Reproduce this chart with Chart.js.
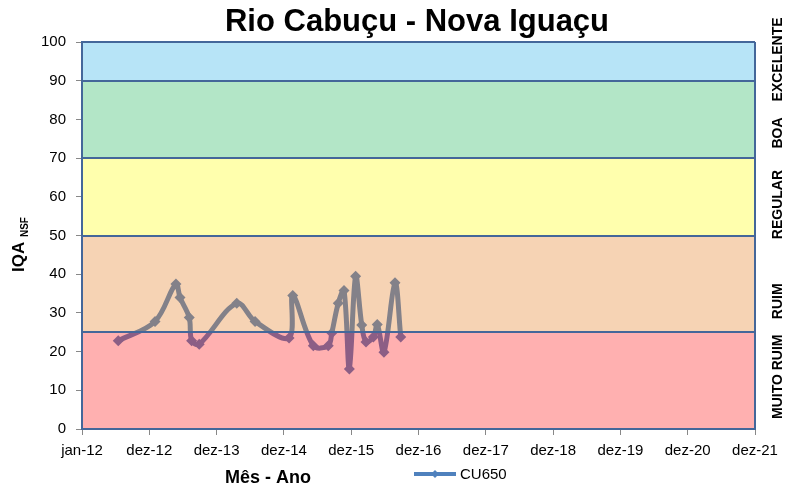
<!DOCTYPE html>
<html>
<head>
<meta charset="utf-8">
<script src="https://cdn.jsdelivr.net/npm/chart.js@4.4.1/dist/chart.umd.min.js"></script>
<style>
  html, body { margin: 0; padding: 0; background: #fff; }
  #wrap { width: 786px; height: 487px; }
</style>
</head>
<body>
<div id="wrap"><canvas id="IqaChart" width="786" height="487"></canvas></div>
<script>
// dados (datas de coleta e IQA)
var sampleDates = ['2012-07-15','2013-01-30','2013-05-23','2013-06-14','2013-08-03','2013-08-16','2013-09-26',
    '2014-04-17','2014-07-25','2015-01-25','2015-02-14','2015-06-05','2015-08-25','2015-09-13','2015-10-18',
    '2015-11-18','2015-12-17','2016-01-20','2016-02-22','2016-03-16','2016-04-25','2016-05-16','2016-06-21',
    '2016-08-20','2016-09-20'];
var iqaValues = [22.8, 27.8, 37.5, 34.0, 28.8, 22.8, 21.9,
    32.5, 27.8, 23.5, 34.5, 21.5, 21.5, 24.8, 32.5,
    35.8, 15.5, 39.5, 26.9, 22.5, 23.8, 27.0, 19.8,
    37.8, 23.8];
var tickLabels = ['jan-12','dez-12','dez-13','dez-14','dez-15','dez-16','dez-17','dez-18','dez-19','dez-20','dez-21'];
var yTicks = [0, 10, 20, 30, 40, 50, 60, 70, 80, 90, 100];

// faixas de qualidade
var bandNames = ['MUITO RUIM', 'RUIM', 'REGULAR', 'BOA', 'EXCELENTE'];
var bandLimits = [0, 25, 50, 70, 90, 100];
var bandLabelAt = [13.5, 33, 58, 76.5, 95.5];
var bandColors = ['rgba(255,29,29,0.35)', 'rgba(229,129,41,0.35)', 'rgba(255,255,20,0.35)',
    'rgba(38,184,95,0.35)', 'rgba(50,178,233,0.35)'];

var FONT = "'Liberation Sans', Arial, sans-serif";
var startDay = Date.UTC(2012, 0, 1);
var stepDays = 364;

function dayOf(s) {
    var p = s.split('-');
    return (Date.UTC(+p[0], +p[1] - 1, +p[2]) - startDay) / 86400000;
}

var points = sampleDates.map(function (d, i) {
    return { x: dayOf(d), y: iqaValues[i] };
});

var bandsPlugin = {
    id: 'bands',
    afterDatasetsDraw: function (chart) {
        var ctx = chart.ctx;
        var a = chart.chartArea;
        var ys = chart.scales.y;
        ctx.save();
        for (var i = 0; i < bandNames.length; i++) {
            var top = ys.getPixelForValue(bandLimits[i + 1]);
            var bot = ys.getPixelForValue(bandLimits[i]);
            ctx.fillStyle = bandColors[i];
            ctx.fillRect(a.left, top, a.right - a.left, bot - top);
        }
        ctx.strokeStyle = '#44679a';
        ctx.lineWidth = 2;
        for (var j = 0; j < bandLimits.length; j++) {
            var y = Math.round(ys.getPixelForValue(bandLimits[j]));
            ctx.beginPath();
            ctx.moveTo(a.left, y);
            ctx.lineTo(a.right, y);
            ctx.stroke();
        }
        ctx.beginPath();
        ctx.moveTo(a.left, a.top);
        ctx.lineTo(a.left, a.bottom);
        ctx.moveTo(a.right, a.top);
        ctx.lineTo(a.right, a.bottom);
        ctx.stroke();

        // nomes das faixas, lado direito
        ctx.fillStyle = '#000';
        ctx.font = 'bold 14px ' + FONT;
        ctx.textAlign = 'center';
        ctx.textBaseline = 'middle';
        for (var k = 0; k < bandNames.length; k++) {
            ctx.save();
            ctx.translate(778, ys.getPixelForValue(bandLabelAt[k]));
            ctx.rotate(-Math.PI / 2);
            ctx.fillText(bandNames[k], 0, 0);
            ctx.restore();
        }
        ctx.restore();
    },
    afterDraw: function (chart) {
        var ctx = chart.ctx;
        ctx.save();
        ctx.fillStyle = '#000';

        // titulo
        ctx.font = 'bold 31px ' + FONT;
        ctx.textAlign = 'center';
        ctx.textBaseline = 'alphabetic';
        ctx.fillText('Rio Cabuçu - Nova Iguaçu', 417, 31);

        // eixo y
        ctx.save();
        ctx.translate(24, 272);
        ctx.rotate(-Math.PI / 2);
        ctx.textAlign = 'left';
        ctx.font = 'bold 17px ' + FONT;
        ctx.fillText('IQA', 0, 0);
        var w = ctx.measureText('IQA ').width;
        ctx.font = 'bold 10px ' + FONT;
        ctx.fillText('NSF', w, 4);
        ctx.restore();

        // eixo x
        ctx.font = 'bold 18px ' + FONT;
        ctx.textAlign = 'center';
        ctx.fillText('Mês - Ano', 268, 483);

        // legenda
        var ds = chart.data.datasets[0];
        ctx.strokeStyle = ds.borderColor;
        ctx.lineWidth = 4;
        ctx.beginPath();
        ctx.moveTo(414, 474);
        ctx.lineTo(456, 474);
        ctx.stroke();
        ctx.fillStyle = ds.borderColor;
        ctx.beginPath();
        ctx.moveTo(435, 470);
        ctx.lineTo(439, 474);
        ctx.lineTo(435, 478);
        ctx.lineTo(431, 474);
        ctx.closePath();
        ctx.fill();
        ctx.fillStyle = '#000';
        ctx.font = '15px ' + FONT;
        ctx.textAlign = 'left';
        ctx.textBaseline = 'middle';
        ctx.fillText('CU650', 460, 475);
        ctx.restore();
    }
};

var config = {
    type: 'line',
    data: {
        datasets: [{
            label: 'CU650',
            data: points,
            borderColor: '#4f81bd',
            backgroundColor: '#4f81bd',
            borderWidth: 5,
            pointStyle: 'rectRot',
            pointRadius: 5.5,
            pointHoverRadius: 5.5,
            pointBackgroundColor: '#4f81bd',
            pointBorderWidth: 0,
            tension: 0.35,
            fill: false
        }]
    },
    options: {
        responsive: false,
        animation: false,
        events: [],
        layout: { padding: { left: 0, right: 31, top: 42, bottom: 0 } },
        plugins: { legend: { display: false }, title: { display: false }, tooltip: { enabled: false } },
        scales: {
            x: {
                type: 'linear',
                min: 0,
                max: stepDays * (tickLabels.length - 1),
                afterFit: function (s) { s.height = 58; },
                grid: { drawOnChartArea: false, tickLength: 6, color: '#888', tickColor: '#888' },
                border: { color: '#44679a', width: 2 },
                ticks: {
                    stepSize: stepDays,
                    autoSkip: false,
                    maxRotation: 0,
                    padding: 7,
                    color: '#000',
                    font: { family: FONT, size: 15 },
                    callback: function (v, i) { return tickLabels[i]; }
                }
            },
            y: {
                min: 0,
                max: 100,
                afterFit: function (s) { s.width = 82; },
                afterBuildTicks: function (s) { s.ticks = yTicks.map(function (v) { return { value: v }; }); },
                grid: { drawOnChartArea: false, tickLength: 6, color: '#888', tickColor: '#888' },
                border: { color: '#44679a', width: 2 },
                ticks: {
                    padding: 10,
                    color: '#000',
                    font: { family: FONT, size: 15 }
                }
            }
        }
    },
    plugins: [bandsPlugin]
};

var iqaChart = new Chart(document.getElementById('IqaChart'), config);
</script>
</body>
</html>
